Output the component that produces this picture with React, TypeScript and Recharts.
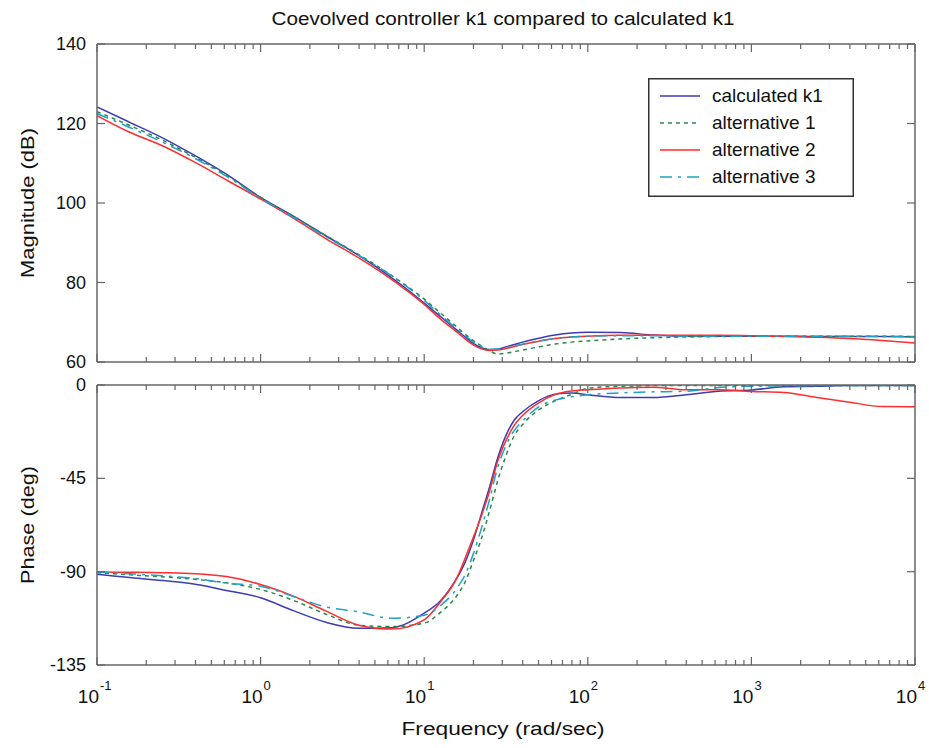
import React from 'react';
import { LineChart, Line, XAxis, YAxis, Legend } from 'recharts';

// frequency grid (rad/sec)
const freq = [
  0.1, 0.1585, 0.2512, 0.3981, 0.631, 1, 1.585, 2.512, 3.981, 6.31,
  10, 12.59, 15.85, 17.78, 19.95, 22.39, 25.12, 28.18, 31.62, 35.48, 39.81,
  50.12, 63.1, 79.43, 100,
  158.5, 251.2, 398.1, 631, 1000, 1585, 2512, 3981, 6310, 10000,
];

const seriesNames = ['calculated k1', 'alternative 1', 'alternative 2', 'alternative 3'];

// magnitude (dB)
const magCalc = [
  124.2, 120.3, 116.4, 111.9, 107.0, 101.4, 96.7, 91.7, 86.8, 81.2,
  74.8, 71.4, 68.0, 66.3, 64.7, 63.6, 63.1, 63.2, 63.8, 64.4, 65.0,
  66.0, 66.8, 67.3, 67.5,
  67.4, 66.8, 66.5, 66.5, 66.5, 66.5, 66.4, 66.4, 66.4, 66.3,
];
const magAlt1 = [
  123.0, 119.5, 115.8, 111.5, 106.8, 101.4, 96.6, 91.8, 87.0, 81.8,
  75.8, 72.3, 68.8, 67.0, 65.4, 64.0, 62.8, 62.0, 62.2, 62.6, 63.0,
  63.8, 64.5, 65.0, 65.3,
  65.8, 66.1, 66.3, 66.4, 66.5, 66.5, 66.5, 66.5, 66.5, 66.4,
];
const magAlt2 = [
  122.0, 117.8, 114.4, 110.2, 105.6, 101.0, 96.2, 91.0, 86.2, 80.8,
  74.5, 70.8, 67.5, 65.8, 64.3, 63.3, 62.9, 63.0, 63.4, 63.9, 64.4,
  65.2, 65.9, 66.3, 66.5,
  66.7, 66.7, 66.7, 66.7, 66.6, 66.4, 66.2, 65.9, 65.4, 64.8,
];
const magAlt3 = [
  122.5, 119.0, 115.3, 111.2, 106.5, 101.2, 96.4, 91.5, 86.8, 81.7,
  75.5, 71.8, 68.3, 66.6, 65.0, 63.8, 63.2, 63.3, 63.6, 64.0, 64.5,
  65.3, 65.9, 66.3, 66.5,
  66.6, 66.6, 66.5, 66.5, 66.5, 66.5, 66.5, 66.5, 66.4, 66.4,
];

// phase (deg)
const phaseCalc = [
  -91.3, -92.8, -94.3, -96.1, -99.2, -102.6, -108.8, -114.4, -117.3, -117.0,
  -110, -104, -93, -85.5, -75, -62, -49, -35, -24.3, -17, -13,
  -7.5, -4.4, -3.9, -4.7,
  -6, -6, -4.7, -3, -2.4, -0.8, -0.6, -0.3, -0.3, -0.2,
];
const phaseAlt1 = [
  -90.5, -91.5, -92.5, -93.7, -95.5, -98.6, -103.8, -110.5, -115.8, -116.5,
  -114.8, -109.6, -101.5, -95, -84.8, -74, -60.5, -46, -34, -24.5, -19.2,
  -12, -7.6, -4.6, -1.6,
  -0.6, -0.3, -0.2, -0.2, -0.2, -0.2, -0.2, -0.2, -0.2, -0.2,
];
const phaseAlt2 = [
  -90.2, -90.3, -90.5, -91.0, -92.5, -96.2, -101.8, -109, -115.8, -117.7,
  -113.2, -104.5, -93, -83.5, -73.5, -63, -51, -36.5, -26.8, -19.5, -14.8,
  -8.6, -4.6, -2.9, -2.3,
  -1.4, -1.1, -2.3, -2.3, -3.1, -3.6, -6.0, -8.3, -10.4, -10.5,
];
const phaseAlt3 = [
  -90.2, -91, -92, -93.3, -95.6, -97, -102, -107, -109.4, -112.5,
  -111, -106.3, -98, -91.5, -81.5, -69, -55, -39.5, -29.2, -22, -17.5,
  -10.5, -7.3, -5.7, -4.7,
  -3.8, -3.3, -3.0, -1.2, -0.6, -0.4, -0.3, -0.3, -0.3, -0.3,
];

const magTicks = [60, 80, 100, 120, 140];
const phaseTicks = [-135, -90, -45, 0];
const decadeTicks = [0.1, 1, 10, 100, 1000, 10000];
const decadeExps = ['-1', '0', '1', '2', '3', '4'];
const minorSteps = [2, 3, 4, 5, 6, 7, 8, 9];

const xTicks = [
  ...decadeTicks,
  ...decadeTicks.slice(0, -1).flatMap((d) => minorSteps.map((m) => Number((d * m).toPrecision(3)))),
].sort((a, b) => a - b);

const AXIS = '#666';
const TEXT = '#111';
const FONT = 'Arial, "Liberation Sans", Helvetica, sans-serif';

const lineStyles = [
  { key: 'calc', color: '#3c3cb4', dash: undefined },
  { key: 'alt1', color: '#27884a', dash: '4 4' },
  { key: 'alt2', color: '#ff2d2d', dash: undefined },
  { key: 'alt3', color: '#1fa0c4', dash: '12 6 3 6' },
];

const magRows = freq.map((f, i) => ({
  f, calc: magCalc[i], alt1: magAlt1[i], alt2: magAlt2[i], alt3: magAlt3[i],
}));
const phaseRows = freq.map((f, i) => ({
  f, calc: phaseCalc[i], alt1: phaseAlt1[i], alt2: phaseAlt2[i], alt3: phaseAlt3[i],
}));

// matlab-style box ticks, drawn inward
const xTick = (side: 'top' | 'bottom', labels: boolean) => (p: any) => {
  const { x, y, payload } = p;
  const idx = decadeTicks.indexOf(payload.value);
  const len = idx >= 0 ? 8 : 5;
  const dir = side === 'bottom' ? -1 : 1;
  return (
    <g>
      <line x1={x} x2={x} y1={y} y2={y + dir * len} stroke={AXIS} strokeWidth={1.2} />
      {labels && idx >= 0 && (
        <g fontFamily={FONT} fill={TEXT}>
          <text x={x + 2} y={y + 38} textAnchor="end" fontSize={19}>10</text>
          <text x={x + 3} y={y + 25} textAnchor="start" fontSize={13}>{decadeExps[idx]}</text>
        </g>
      )}
    </g>
  );
};

const yTick = (side: 'left' | 'right') => (p: any) => {
  const { x, y, payload } = p;
  const dir = side === 'left' ? 1 : -1;
  return (
    <g>
      <line x1={x} x2={x + dir * 8} y1={y} y2={y} stroke={AXIS} strokeWidth={1.2} />
      {side === 'left' && (
        <text x={x - 11} y={y + 6} textAnchor="end" fontSize={18} fontFamily={FONT} fill={TEXT}>
          {payload.value}
        </text>
      )}
    </g>
  );
};

function LegendBox() {
  return (
    <svg width={206} height={119} style={{ display: 'block' }}>
      <rect x={0.75} y={0.75} width={204.5} height={117.5} fill="#fff" stroke="#333" strokeWidth={1.5} />
      {lineStyles.map((s, i) => {
        const cy = 18 + i * 27;
        return (
          <g key={s.key}>
            <line x1={12} x2={52} y1={cy} y2={cy} stroke={s.color} strokeWidth={1.5} strokeDasharray={s.dash} />
            <text x={64} y={cy + 6} fontSize={19} fontFamily={FONT} fill={TEXT}>{seriesNames[i]}</text>
          </g>
        );
      })}
    </svg>
  );
}

function Series() {
  return lineStyles.map((s, i) => (
    <Line
      key={s.key}
      type="monotone"
      dataKey={s.key}
      name={seriesNames[i]}
      stroke={s.color}
      strokeWidth={1.5}
      strokeDasharray={s.dash}
      dot={false}
      isAnimationActive={false}
    />
  ));
}

function xAxes(labels: boolean) {
  const common = {
    dataKey: 'f',
    type: 'number' as const,
    scale: 'log' as const,
    domain: [0.1, 10000],
    allowDataOverflow: true,
    ticks: xTicks,
    interval: 0 as const,
    tickLine: false,
    tickSize: 0,
    tickMargin: 0,
    height: 1,
    axisLine: { stroke: AXIS, strokeWidth: 1.5 },
  };
  return [
    <XAxis key="b" {...common} orientation="bottom" tick={xTick('bottom', labels)} />,
    <XAxis key="t" {...common} xAxisId="top" orientation="top" tick={xTick('top', false)} />,
  ];
}

function yAxes(domain: number[], ticks: number[]) {
  const common = {
    type: 'number' as const,
    domain,
    allowDataOverflow: true,
    ticks,
    interval: 0 as const,
    tickLine: false,
    tickSize: 0,
    tickMargin: 0,
    width: 1,
    axisLine: { stroke: AXIS, strokeWidth: 1.5 },
  };
  return [
    <YAxis key="l" {...common} orientation="left" tick={yTick('left')} />,
    <YAxis key="r" {...common} yAxisId="right" orientation="right" tick={yTick('right')} />,
  ];
}

export default function App() {
  return (
    <div style={{ position: 'absolute', left: 0, top: 0, width: 929, height: 748, background: '#fff' }}>
      <div style={{ position: 'absolute', left: 0, top: 0 }}>
        <LineChart width={929} height={375} data={magRows} margin={{ top: 43, right: 13, bottom: 12, left: 96 }}>
          {xAxes(false)}
          {yAxes([60, 140], magTicks)}
          {Series()}
          <Legend
            layout="horizontal"
            align="center"
            verticalAlign="middle"
            wrapperStyle={{ left: 648, top: 78, width: 206, height: 119 }}
            content={() => <LegendBox />}
          />
        </LineChart>
        <svg width={929} height={375} style={{ position: 'absolute', left: 0, top: 0, pointerEvents: 'none' }}>
          <text x={503} y={25} textAnchor="middle" fontSize={18} fontFamily={FONT} fill={TEXT}
            textLength={463} lengthAdjust="spacingAndGlyphs">
            Coevolved controller k1 compared to calculated k1
          </text>
          <text x={34} y={203} transform="rotate(-90 34 203)" textAnchor="middle" fontSize={18}
            fontFamily={FONT} fill={TEXT} textLength={150} lengthAdjust="spacingAndGlyphs">
            Magnitude (dB)
          </text>
        </svg>
      </div>
      <div style={{ position: 'absolute', left: 0, top: 375 }}>
        <LineChart width={929} height={373} data={phaseRows} margin={{ top: 9, right: 13, bottom: 82, left: 96 }}>
          {xAxes(true)}
          {yAxes([-135, 0], phaseTicks)}
          {Series()}
        </LineChart>
        <svg width={929} height={373} style={{ position: 'absolute', left: 0, top: 0, pointerEvents: 'none' }}>
          <text x={34} y={150} transform="rotate(-90 34 150)" textAnchor="middle" fontSize={18}
            fontFamily={FONT} fill={TEXT} textLength={118} lengthAdjust="spacingAndGlyphs">
            Phase (deg)
          </text>
          <text x={503} y={360} textAnchor="middle" fontSize={18} fontFamily={FONT} fill={TEXT}
            textLength={203} lengthAdjust="spacingAndGlyphs">
            Frequency  (rad/sec)
          </text>
        </svg>
      </div>
    </div>
  );
}
